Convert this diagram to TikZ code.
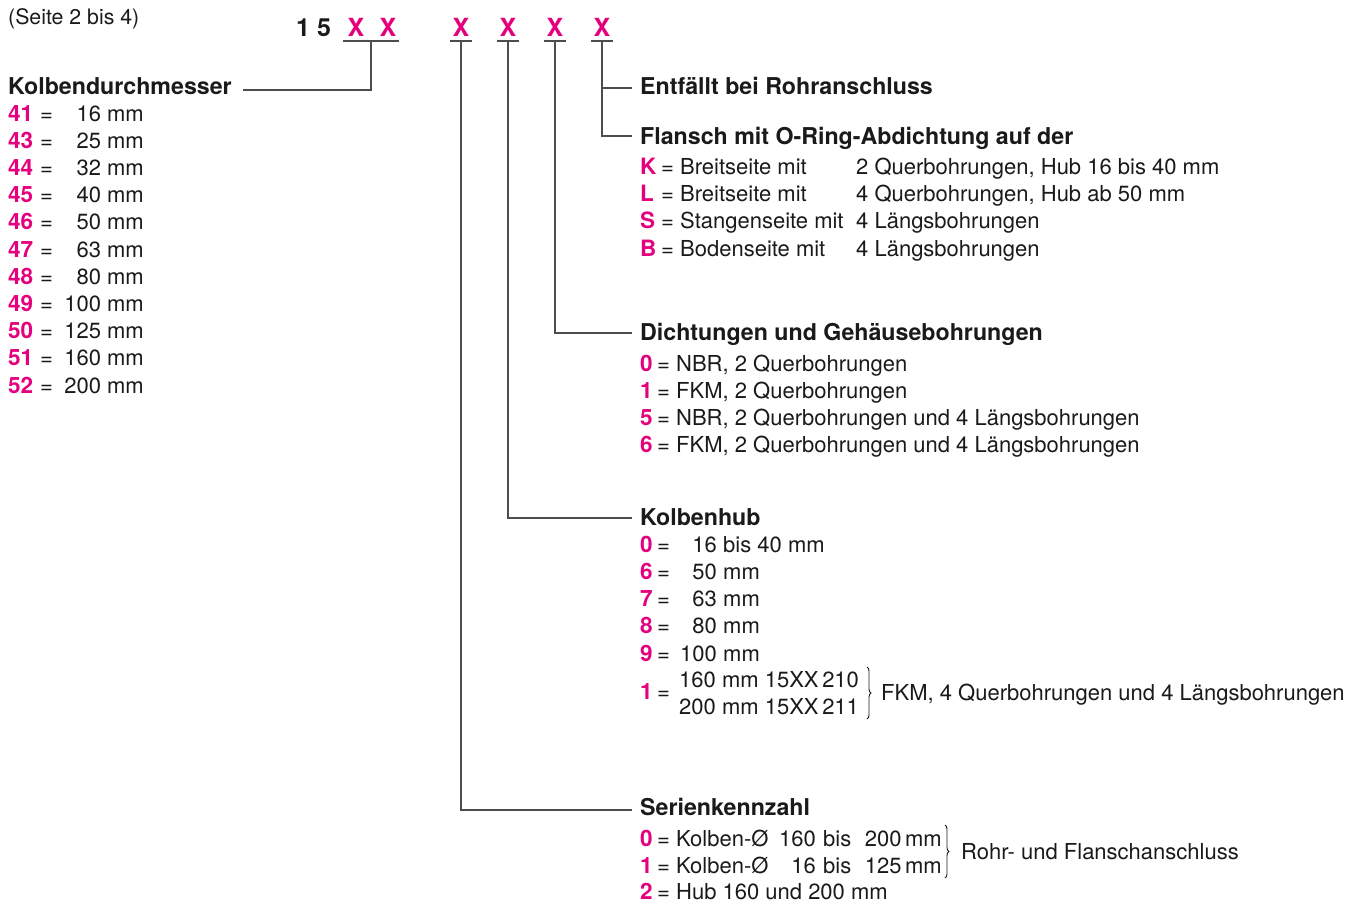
\documentclass[tikz,border=0pt]{standalone}
\usepackage{fontspec}
\setmainfont{TeX Gyre Heros}
\usetikzlibrary{decorations.pathreplacing,calc}
\definecolor{mag}{HTML}{E5007D}
\definecolor{ink}{HTML}{1A1A1A}
\definecolor{lgray}{HTML}{4D4D4D}
\begin{document}
\begin{tikzpicture}[x=1pt,y=-1pt,
  txt/.style={inner sep=0pt, anchor=base west, text=ink, font=\fontsize{22}{26}\selectfont},
  rtxt/.style={txt, anchor=base east},
  num/.style={txt, text=mag, font=\fontsize{22.5}{26}\selectfont\bfseries},
  hd/.style={txt, font=\fontsize{23.2}{27}\selectfont\bfseries},
  big/.style={inner sep=0pt, anchor=base, font=\fontsize{25}{30}\selectfont\bfseries},
  conn/.style={draw=lgray, line width=1.2pt},
  uline/.style={draw=lgray, line width=2pt},
  brc/.style={draw=ink, line width=0.9pt, decorate, decoration={brace, amplitude=4pt}}]
\useasboundingbox (0,0) rectangle (1348,903);

% top left
\node[txt, font=\fontsize{21.3}{25}\selectfont] (seite) at (8,24) {(Seite 2 bis 4)};

% header code
\node[big, anchor=base west, text=ink] (c15) at (296,36) {1 5};
\node[big, text=mag] (xa) at (356,36) {X};
\node[big, text=mag] (xb) at (388,36) {X};
\node[big, text=mag] (x1) at (461,36) {X};
\node[big, text=mag] (x2) at (508,36) {X};
\node[big, text=mag] (x3) at (555,36) {X};
\node[big, text=mag] (x4) at (602,36) {X};

\coordinate (u0) at (371,41);
\coordinate (u1) at (461,41);
\coordinate (u2) at (508,41);
\coordinate (u3) at (555,41);
\coordinate (u4) at (602,41);
\draw[uline] (343,41) -- (399,41);
\foreach \u in {u1,u2,u3,u4} {\draw[uline] ($(\u)+(-11,0)$) -- ($(\u)+(11,0)$);}

% Kolbendurchmesser
\node[hd] (kd) at (8,94) {Kolbendurchmesser};
\coordinate (kdend) at (243,90);
\draw[conn] (u0) |- (kdend);
\foreach \n/\v [count=\i from 0] in {41/16,43/25,44/32,45/40,46/50,47/63,48/80,49/100,50/125,51/160,52/200} {
  \node[num] (dn\n) at (8,{121+27.2*\i}) {\n};
  \node[txt] (de\n) at (40,{121+27.2*\i}) {=};
  \node[rtxt] (dv\n) at (144,{121+27.2*\i}) {\v\ mm};
}

% Entfaellt / Flansch
\node[hd] (entf) at (640,94) {Entfällt bei Rohranschluss};
\node[hd] (fl) at (640,144) {Flansch mit O-Ring-Abdichtung auf der};
\coordinate (e4) at (632,88);
\coordinate (f4) at (632,136);
\draw[conn] (u4) |- (f4);
\draw[conn] (602,88) -- (e4);
\foreach \l/\a/\b [count=\i from 0] in {K/Breitseite mit/{2 Querbohrungen, Hub 16 bis 40 mm},L/Breitseite mit/{4 Querbohrungen, Hub ab 50 mm},S/Stangenseite mit/4 Längsbohrungen,B/Bodenseite mit/4 Längsbohrungen} {
  \node[num] (fn\l) at (640,{174+27.4*\i}) {\l};
  \node[txt] (fa\l) at (661,{174+27.4*\i}) {= \a};
  \node[txt] (fb\l) at (856,{174+27.4*\i}) {\b};
}

% Dichtungen
\node[hd] (dg) at (640,340) {Dichtungen und Gehäusebohrungen};
\coordinate (d3) at (632,333);
\draw[conn] (u3) |- (d3);
\foreach \l/\a [count=\i from 0] in {0/{NBR, 2 Querbohrungen},1/{FKM, 2 Querbohrungen},5/{NBR, 2 Querbohrungen und 4 Längsbohrungen},6/{FKM, 2 Querbohrungen und 4 Längsbohrungen}} {
  \node[num] (gn\l) at (640,{371+27.3*\i}) {\l};
  \node[txt] (ga\l) at (657,{371+27.3*\i}) {= \a};
}

% Kolbenhub
\node[hd] (kh) at (640,525) {Kolbenhub};
\coordinate (h2) at (632,518);
\draw[conn] (u2) |- (h2);
\foreach \l/\a/\b [count=\i from 0] in {0/16/bis 40 mm,6/50/mm,7/63/mm,8/80/mm,9/100/mm} {
  \node[num] (hn\l) at (640,{552+27.3*\i}) {\l};
  \node[txt] (he\l) at (657,{552+27.3*\i}) {=};
  \node[rtxt] (hv\l) at (717,{552+27.3*\i}) {\a};
  \node[txt] (hr\l) at (723,{552+27.3*\i}) {\b};
}
\node[num] (hn1) at (640,699) {1};
\node[txt] (he1) at (657,699) {=};
\node[txt] (hl1) at (679,687) {160 mm 15XX\,210};
\node[txt] (hl2) at (679,714) {200 mm 15XX\,211};
\coordinate (hb1) at (867,667);
\coordinate (hb2) at (867,719);
\draw[brc] (hb1) -- (hb2);
\node[txt] (hfkm) at (881,700) {FKM, 4 Querbohrungen und 4 Längsbohrungen};

% Serienkennzahl
\node[hd] (sk) at (640,815) {Serienkennzahl};
\coordinate (s1) at (632,810);
\draw[conn] (u1) |- (s1);
\node[num] (sn0) at (640,846) {0};
\node[txt] (sa0) at (657,846) {= Kolben-Ø};
\node[rtxt] (sb0) at (816,846) {160};
\node[txt] (sc0) at (823,846) {bis};
\node[rtxt] (sd0) at (942,846) {200\,mm};
\node[num] (sn1) at (640,873) {1};
\node[txt] (sa1) at (657,873) {= Kolben-Ø};
\node[rtxt] (sb1) at (816,873) {16};
\node[txt] (sc1) at (823,873) {bis};
\node[rtxt] (sd1) at (942,873) {125\,mm};
\coordinate (sbr1) at (945,825);
\coordinate (sbr2) at (945,878);
\draw[brc] (sbr1) -- (sbr2);
\node[txt] (srf) at (961,859) {Rohr- und Flanschanschluss};
\node[num] (sn2) at (640,899) {2};
\node[txt] (sa2) at (657,899) {= Hub 160 und 200 mm};
\end{tikzpicture}
\end{document}
